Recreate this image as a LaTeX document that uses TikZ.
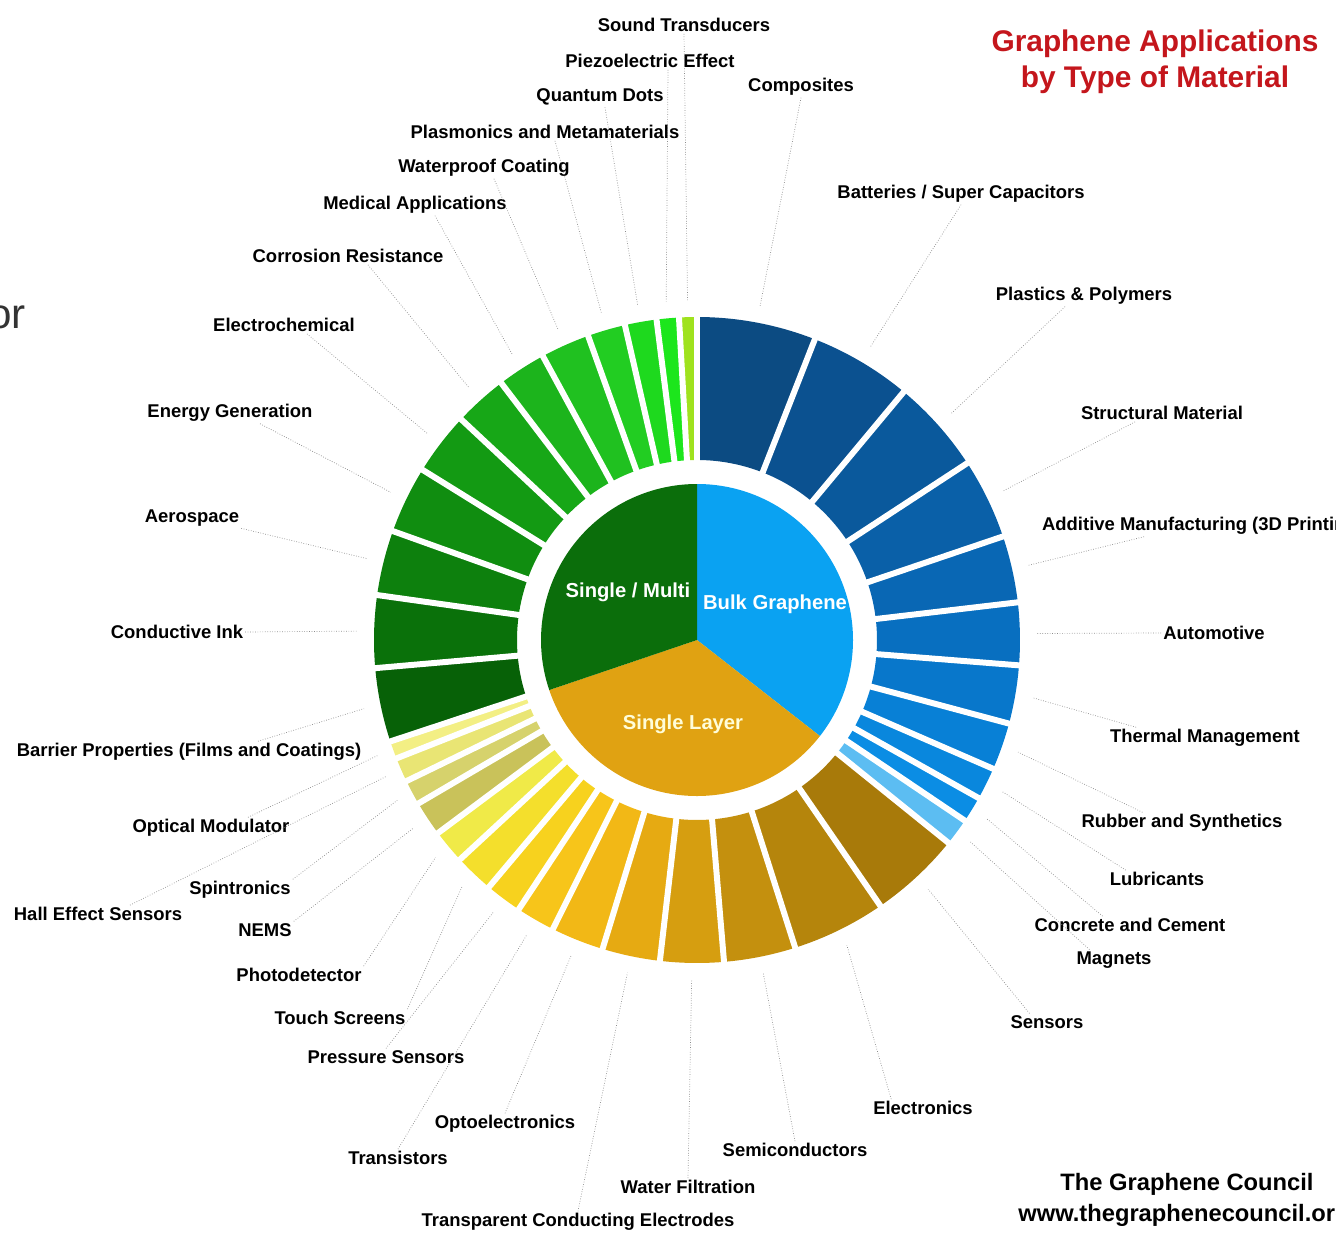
\documentclass[tikz,border=0pt]{standalone}
\usepackage{fontspec}
\setmainfont{Liberation Sans}
\usepackage{tikz}
\usepackage{xcolor}
\usetikzlibrary{calc}

% pie colours
\definecolor{pieGreen}{HTML}{0B6E0B}
\definecolor{pieBlue}{HTML}{0AA2F2}
\definecolor{pieGold}{HTML}{E0A212}
\definecolor{titleRed}{HTML}{C4161C}
% ring colours, bulk graphene
\definecolor{bl1}{HTML}{0C4B82}
\definecolor{bl2}{HTML}{0B5190}
\definecolor{bl3}{HTML}{0A599C}
\definecolor{bl4}{HTML}{0A60A8}
\definecolor{bl5}{HTML}{0967B4}
\definecolor{bl6}{HTML}{086FC0}
\definecolor{bl7}{HTML}{0877CB}
\definecolor{bl8}{HTML}{0880D6}
\definecolor{bl9}{HTML}{0987DD}
\definecolor{bl10}{HTML}{0B8DE4}
\definecolor{bl11}{HTML}{5CBDF2}
% ring colours, single layer
\definecolor{go1}{HTML}{A87A0A}
\definecolor{go2}{HTML}{B5850C}
\definecolor{go3}{HTML}{C4900E}
\definecolor{go4}{HTML}{D69E10}
\definecolor{go5}{HTML}{E6AA12}
\definecolor{go6}{HTML}{F2B816}
\definecolor{go7}{HTML}{F7C51A}
\definecolor{go8}{HTML}{F7D21E}
\definecolor{go9}{HTML}{F4DF2C}
\definecolor{go10}{HTML}{F0EA48}
\definecolor{go11}{HTML}{C9C25A}
\definecolor{go12}{HTML}{D6D26C}
\definecolor{go13}{HTML}{E9E574}
\definecolor{go14}{HTML}{F3EF84}
% ring colours, single / multi
\definecolor{gr1}{HTML}{9FE21E}
\definecolor{gr2}{HTML}{1CE61C}
\definecolor{gr3}{HTML}{1ED91E}
\definecolor{gr4}{HTML}{22CD22}
\definecolor{gr5}{HTML}{20C120}
\definecolor{gr6}{HTML}{1CB41C}
\definecolor{gr7}{HTML}{17A717}
\definecolor{gr8}{HTML}{139A13}
\definecolor{gr9}{HTML}{108D10}
\definecolor{gr10}{HTML}{0D800D}
\definecolor{gr11}{HTML}{0A710A}
\definecolor{gr12}{HTML}{076107}

\begin{document}
\begin{tikzpicture}[x=0.02cm, y=0.02cm,
    lbl/.style={font=\fontsize{10.5}{12}\selectfont\bfseries, inner sep=1pt},
    pielbl/.style={font=\fontsize{11.5}{13}\selectfont\bfseries, text=white, inner sep=1pt},
    leader/.style={black!45, line width=0.4pt, densely dotted},
    gapline/.style={white, line width=3.4pt}]
\useasboundingbox (0,0) rectangle (1336,-1240);
\clip (0,0) rectangle (1336,-1240);
\coordinate (C) at (697,-640);

% Inner pie and outer ring
\begin{scope}[shift={(C)}]
\fill[pieBlue] (0,0) -- (90:156) arc[start angle=90, end angle=-38, radius=156] -- cycle;
\fill[pieGold] (0,0) -- (-38:156) arc[start angle=-38, end angle=-161.3, radius=156] -- cycle;
\fill[pieGreen] (0,0) -- (198.7:156) arc[start angle=198.7, end angle=90, radius=156] -- cycle;

\foreach \a/\b/\c/\n in {
    90/68.6/bl1/composites, 68.6/50.2/bl2/batteries, 50.2/33.2/bl3/plastics,
    33.2/18.7/bl4/structural, 18.7/6.7/bl5/additive, 6.7/-4.5/bl6/automotive,
    -4.5/-15/bl7/thermal, -15/-23.5/bl8/rubber, -23.5/-29.3/bl9/lubricants,
    -29.3/-34/bl10/concrete, -34/-38.9/bl11/magnets,
    -38.9/-55.4/go1/sensors, -55.4/-72.3/go2/electronics, -72.3/-85.2/go3/semicond,
    -85.2/-96.6/go4/water, -96.6/-107/go5/transparent, -107/-116.5/go6/opto,
    -116.5/-123.5/go7/transistors, -123.5/-130.1/go8/pressure, -130.1/-137.2/go9/touch,
    -137.2/-143.3/go10/photo, -143.3/-149.6/go11/nems, -149.6/-154.1/go12/spin,
    -154.1/-158.5/go13/hall, -158.5/-161.7/go14/optical,
    198.3/185/gr12/barrier, 185/172/gr11/conductive, 172/160.3/gr10/aerospace,
    160.3/148.2/gr9/energy, 148.2/136.9/gr8/electrochem, 136.9/127.3/gr7/corrosion,
    127.3/118.5/gr6/medical, 118.5/109.7/gr5/waterproof, 109.7/102.9/gr4/plasmonics,
    102.9/97.2/gr3/quantum, 97.2/93.2/gr2/piezo, 93.2/90/gr1/sound} {
    \fill[\c] (\b:323) arc[start angle=\b, end angle=\a, radius=323]
        -- (\a:180) arc[start angle=\a, end angle=\b, radius=180] -- cycle;
    \coordinate (p-\n) at ({(\a+\b)/2}:340);
}

% white cuts between segments
\foreach \g in {90,68.6,50.2,33.2,18.7,6.7,-4.5,-15,-23.5,-29.3,-34,-38.9,
    -55.4,-72.3,-85.2,-96.6,-107,-116.5,-123.5,-130.1,-137.2,-143.3,-149.6,-154.1,-158.5,
    198.3,185,172,160.3,148.2,136.9,127.3,118.5,109.7,102.9,97.2,93.2} {
    \draw[gapline] (\g:174) -- (\g:330);
}
\end{scope}

% Pie labels
\node[pielbl] (multi) at (628,-592) {Single / Multi};
\node[pielbl] (bulk) at (775,-604) {Bulk Graphene};
\node[pielbl, text=yellow!15] (single) at (683,-724) {Single Layer};

% Title and credits
\node[font=\fontsize{17}{20.5}\selectfont\bfseries, text=titleRed, align=center] (title) at (1155,-62) {Graphene Applications\\by Type of Material};
\node[font=\fontsize{13.5}{16}\selectfont\bfseries] (council) at (1187,-1184) {The Graphene Council};
\node[font=\fontsize{13.5}{16}\selectfont\bfseries, anchor=west, inner sep=0] (url) at (1018,-1215) {www.thegraphenecouncil.org};
\node[font=\fontsize{24}{28}\selectfont, text=black!80, anchor=east, inner sep=0] (orfrag) at (26,-317) {or};

% Application labels
\node[lbl] (sound) at (684,-25) {Sound Transducers};
\node[lbl] (piezo) at (650,-61) {Piezoelectric Effect};
\node[lbl] (quantum) at (600,-97) {Quantum Dots};
\node[lbl] (plasmonics) at (545,-132) {Plasmonics and Metamaterials};
\node[lbl] (waterproof) at (484,-168) {Waterproof Coating};
\node[lbl] (medical) at (415,-205) {Medical Applications};
\node[lbl] (corrosion) at (348,-256) {Corrosion Resistance};
\node[lbl] (electrochem) at (284,-325) {Electrochemical};
\node[lbl] (energy) at (230,-413) {Energy Generation};
\node[lbl] (aerospace) at (192,-518) {Aerospace};
\node[lbl] (conductive) at (177,-632) {Conductive Ink};
\node[lbl] (barrier) at (189,-752) {Barrier Properties (Films and Coatings)};
\node[lbl] (optical) at (211,-828) {Optical Modulator};
\node[lbl] (hall) at (98,-914) {Hall Effect Sensors};
\node[lbl] (spin) at (240,-890) {Spintronics};
\node[lbl] (nems) at (265,-930) {NEMS};
\node[lbl] (photo) at (299,-975) {Photodetector};
\node[lbl] (touch) at (340,-1018) {Touch Screens};
\node[lbl] (pressure) at (386,-1057) {Pressure Sensors};
\node[lbl] (transistors) at (398,-1158) {Transistors};
\node[lbl] (opto) at (505,-1124) {Optoelectronics};
\node[lbl] (transparent) at (578,-1222) {Transparent Conducting Electrodes};
\node[lbl] (water) at (688,-1187) {Water Filtration};
\node[lbl] (semicond) at (795,-1150) {Semiconductors};
\node[lbl] (electronics) at (923,-1108) {Electronics};
\node[lbl] (sensors) at (1047,-1022) {Sensors};
\node[lbl] (magnets) at (1114,-960) {Magnets};
\node[lbl] (concrete) at (1130,-925) {Concrete and Cement};
\node[lbl] (lubricants) at (1157,-879) {Lubricants};
\node[lbl] (rubber) at (1182,-823) {Rubber and Synthetics};
\node[lbl] (thermal) at (1205,-738) {Thermal Management};
\node[lbl] (automotive) at (1214,-633) {Automotive};
\node[lbl, anchor=west] (additive) at (1040,-526) {Additive Manufacturing (3D Printing)};
\node[lbl] (structural) at (1162,-413) {Structural Material};
\node[lbl] (plastics) at (1084,-296) {Plastics \& Polymers};
\node[lbl] (batteries) at (961,-194) {Batteries / Super Capacitors};
\node[lbl] (composites) at (801,-87) {Composites};

% Leader lines
\draw[leader] (sound.south) -- (p-sound);
\draw[leader] ($(piezo.south)+(18,0)$) -- (p-piezo);
\draw[leader] ($(quantum.south)+(5,0)$) -- (p-quantum);
\draw[leader] ($(plasmonics.south)+(10,0)$) -- (p-plasmonics);
\draw[leader] ($(waterproof.south)+(10,0)$) -- (p-waterproof);
\draw[leader] ($(medical.south)+(20,0)$) -- (p-medical);
\draw[leader] ($(corrosion.south)+(20,0)$) -- (p-corrosion);
\draw[leader] ($(electrochem.south)+(23,0)$) -- (p-electrochem);
\draw[leader] ($(energy.south)+(30,0)$) -- (p-energy);
\draw[leader] (aerospace.south east) -- (p-aerospace);
\draw[leader] (conductive.east) -- (p-conductive);
\draw[leader] ($(barrier.north)+(69,0)$) -- (p-barrier);
\draw[leader] ($(optical.north)+(37,0)$) -- (p-optical);
\draw[leader] ($(hall.north)+(32,0)$) -- (p-hall);
\draw[leader] (spin.north east) -- (p-spin);
\draw[leader] (nems.north east) -- (p-nems);
\draw[leader] (photo.north east) -- (p-photo);
\draw[leader] (touch.north east) -- (p-touch);
\draw[leader] (pressure.north) -- (p-pressure);
\draw[leader] (transistors.north) -- (p-transistors);
\draw[leader] (opto.north) -- (p-opto);
\draw[leader] (transparent.north) -- (p-transparent);
\draw[leader] (water.north) -- (p-water);
\draw[leader] (semicond.north) -- (p-semicond);
\draw[leader] ($(electronics.north west)+(20,0)$) -- (p-electronics);
\draw[leader] ($(sensors.north west)+(21,0)$) -- (p-sensors);
\draw[leader] ($(magnets.north west)+(15,0)$) -- (p-magnets);
\draw[leader] ($(concrete.north west)+(70,0)$) -- (p-concrete);
\draw[leader] ($(lubricants.north west)+(18,0)$) -- (p-lubricants);
\draw[leader] ($(rubber.north west)+(63,0)$) -- (p-rubber);
\draw[leader] ($(thermal.north west)+(28,0)$) -- (p-thermal);
\draw[leader] (automotive.west) -- (p-automotive);
\draw[leader] ($(additive.south west)+(104,0)$) -- (p-additive);
\draw[leader] ($(structural.south)+(-27,0)$) -- (p-structural);
\draw[leader] ($(plastics.south)+(-19,0)$) -- (p-plastics);
\draw[leader] (batteries.south) -- (p-batteries);
\draw[leader] (composites.south) -- (p-composites);
\end{tikzpicture}
\end{document}
